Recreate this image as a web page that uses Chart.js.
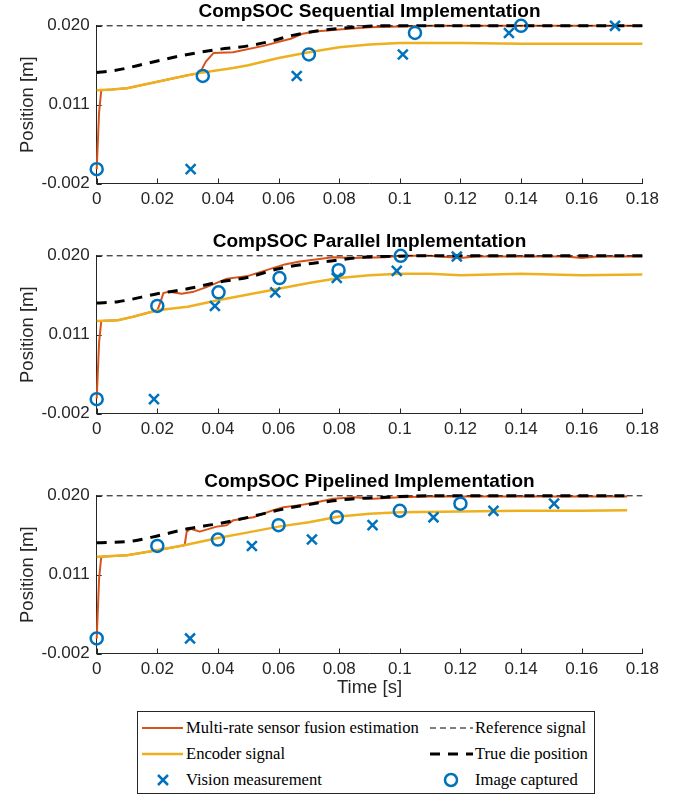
<!DOCTYPE html>
<html>
<head>
<meta charset="utf-8">
<script src="https://cdn.jsdelivr.net/npm/chart.js@4.4.0/dist/chart.umd.min.js"></script>
<style>
  body { margin: 0; background: #fff; }
  #wrap { position: relative; width: 683px; height: 795px; overflow: hidden; }
  #wrap canvas { position: absolute; left: 0; }
  #legend { position: absolute; left: 137px; top: 711px; width: 456px; height: 81px;
    border: 1px solid #262626; background: #fff;
    font-family: "Liberation Serif", "Times New Roman", serif; font-size: 16.6px; color: #000; }
  #legend svg { position: absolute; }
  #legend span { position: absolute; line-height: 20px; white-space: nowrap; }
</style>
</head>
<body>
<div id="wrap">
  <canvas id="c1" width="683" height="225" style="top:0px"></canvas>
  <canvas id="c2" width="683" height="225" style="top:229.6px"></canvas>
  <canvas id="c3" width="683" height="245" style="top:469.6px"></canvas>
  <div id="legend">
    <svg style="left:3.7px;top:7.7px" width="42" height="16"><line x1="0" y1="8" x2="41" y2="8" stroke="#D95319" stroke-width="2"/></svg>
    <span style="left:48px;top:5.7px">Multi-rate sensor fusion estimation</span>
    <svg style="left:292px;top:7.7px" width="44" height="16"><line x1="0" y1="8" x2="43" y2="8" stroke="#000" stroke-width="1" stroke-dasharray="6 4"/></svg>
    <span style="left:337px;top:5.7px">Reference signal</span>

    <svg style="left:3.7px;top:34.3px" width="42" height="16"><line x1="0" y1="8" x2="41" y2="8" stroke="#EDB120" stroke-width="2.5"/></svg>
    <span style="left:48px;top:32.3px">Encoder signal</span>
    <svg style="left:292px;top:34.3px" width="44" height="16"><line x1="0" y1="8" x2="43" y2="8" stroke="#000" stroke-width="3" stroke-dasharray="10 8"/></svg>
    <span style="left:337px;top:32.3px">True die position</span>

    <svg style="left:3.7px;top:60px" width="42" height="16"><path d="M16 3 L26 13 M26 3 L16 13" stroke="#0072BD" stroke-width="2.5"/></svg>
    <span style="left:48px;top:58px">Vision measurement</span>
    <svg style="left:292px;top:60px" width="44" height="16"><circle cx="21" cy="8" r="6" fill="none" stroke="#0072BD" stroke-width="2.5"/></svg>
    <span style="left:337px;top:58px">Image captured</span>
  </div>
</div>
<script>
const xTicks = [0, 0.02, 0.04, 0.06, 0.08, 0.1, 0.12, 0.14, 0.16, 0.18];
const yTicks = [-0.002, 0.009, 0.020];
const yTickLabels = ['-0.002', '0.011', '0.020'];
const titles = ['CompSOC Sequential Implementation', 'CompSOC Parallel Implementation', 'CompSOC Pipelined Implementation'];

// [time, position] pairs
const seqReference = [[0, 0.020], [0.18, 0.020]];
const seqTrue = [[0, 0.0135], [0.005, 0.0137], [0.01, 0.0141], [0.015, 0.0146], [0.02, 0.0151], [0.03, 0.0160], [0.04, 0.0167], [0.05, 0.0172], [0.057, 0.0178], [0.065, 0.0187], [0.075, 0.0194], [0.085, 0.0198], [0.095, 0.0200], [0.18, 0.0200]];
const seqEncoder = [[0, 0.0110], [0.005, 0.0111], [0.01, 0.0113], [0.02, 0.0122], [0.03, 0.0131], [0.035, 0.0135], [0.04, 0.0138], [0.045, 0.0141], [0.05, 0.0145], [0.06, 0.0155], [0.07, 0.0163], [0.08, 0.0170], [0.09, 0.0174], [0.10, 0.0176], [0.12, 0.0176], [0.14, 0.0175], [0.16, 0.0175], [0.18, 0.0175]];
const seqFusion = [[0, 0.0000], [0.0008, 0.0080], [0.0015, 0.0110], [0.005, 0.0111], [0.01, 0.0113], [0.02, 0.0122], [0.03, 0.0131], [0.034, 0.0134], [0.036, 0.0150], [0.0385, 0.0162], [0.045, 0.0163], [0.055, 0.0172], [0.064, 0.0182], [0.068, 0.0189], [0.072, 0.0192], [0.08, 0.0195], [0.09, 0.0198], [0.1, 0.0199], [0.11, 0.0200], [0.18, 0.0200]];
const seqVision = [[0.031, 0.0000], [0.066, 0.0130], [0.101, 0.0160], [0.136, 0.0190], [0.171, 0.0200]];
const seqCaptured = [[0, 0.0000], [0.035, 0.0130], [0.070, 0.0160], [0.105, 0.0190], [0.140, 0.0200]];

const parReference = [[0, 0.020], [0.18, 0.020]];
const parTrue = [[0, 0.0134], [0.007, 0.0136], [0.02, 0.0147], [0.03, 0.0154], [0.04, 0.0163], [0.05, 0.0170], [0.06, 0.0182], [0.07, 0.0189], [0.078, 0.0193], [0.085, 0.0197], [0.1, 0.01995], [0.11, 0.0200], [0.18, 0.0200]];
const parEncoder = [[0, 0.0109], [0.007, 0.0110], [0.012, 0.0115], [0.02, 0.0124], [0.03, 0.0129], [0.04, 0.0138], [0.05, 0.0146], [0.06, 0.0154], [0.07, 0.0162], [0.08, 0.0169], [0.09, 0.0173], [0.1, 0.0175], [0.11, 0.0175], [0.12, 0.0173], [0.14, 0.0175], [0.16, 0.0173], [0.18, 0.0174]];
const parFusion = [[0, 0.0001], [0.0008, 0.0080], [0.0015, 0.0109], [0.007, 0.0110], [0.012, 0.0115], [0.02, 0.0124], [0.021, 0.0135], [0.022, 0.0148], [0.024, 0.0150], [0.028, 0.0147], [0.032, 0.0150], [0.036, 0.0156], [0.04, 0.0163], [0.043, 0.0168], [0.05, 0.0172], [0.056, 0.0180], [0.062, 0.0188], [0.067, 0.0192], [0.078, 0.0198], [0.085, 0.0197], [0.095, 0.0198], [0.1, 0.0200], [0.11, 0.0200], [0.12, 0.0197], [0.125, 0.0199], [0.155, 0.0199], [0.16, 0.0197], [0.165, 0.0199], [0.18, 0.0199]];
const parVision = [[0.0189, 0.0000], [0.039, 0.0130], [0.0589, 0.0149], [0.0792, 0.0169], [0.099, 0.0179], [0.1188, 0.0199]];
const parCaptured = [[0, 0.0000], [0.02, 0.0130], [0.0402, 0.0149], [0.0603, 0.0169], [0.0798, 0.0180], [0.1003, 0.0200]];

const pipReference = [[0, 0.020], [0.18, 0.020]];
const pipTrue = [[0, 0.01345], [0.012, 0.0137], [0.02, 0.0144], [0.03, 0.0154], [0.04, 0.0161], [0.05, 0.0170], [0.06, 0.0180], [0.07, 0.0188], [0.078, 0.0193], [0.085, 0.0196], [0.09, 0.0197], [0.1, 0.0199], [0.11, 0.0200], [0.175, 0.0200]];
const pipEncoder = [[0, 0.0115], [0.01, 0.0117], [0.02, 0.0124], [0.03, 0.0132], [0.04, 0.0141], [0.05, 0.0149], [0.06, 0.0157], [0.07, 0.0163], [0.08, 0.0171], [0.09, 0.0175], [0.1, 0.0177], [0.12, 0.0178], [0.14, 0.0179], [0.16, 0.0179], [0.175, 0.0180]];
const pipFusion = [[0, 0.0001], [0.0008, 0.0085], [0.0015, 0.0115], [0.01, 0.0117], [0.02, 0.0124], [0.029, 0.0131], [0.0297, 0.0150], [0.031, 0.0154], [0.034, 0.0150], [0.0396, 0.0157], [0.0429, 0.0159], [0.0451, 0.0166], [0.0517, 0.0170], [0.0583, 0.0180], [0.0616, 0.0184], [0.0671, 0.0187], [0.0726, 0.0191], [0.078, 0.0196], [0.085, 0.0198], [0.0913, 0.0196], [0.1, 0.0198], [0.11, 0.0199], [0.175, 0.0199]];
const pipVision = [[0.0308, 0.0001], [0.0512, 0.0130], [0.071, 0.0139], [0.091, 0.0159], [0.1111, 0.0170], [0.1309, 0.0179], [0.1509, 0.0189]];
const pipCaptured = [[0, 0.0001], [0.02, 0.0130], [0.04, 0.0139], [0.06, 0.0159], [0.0792, 0.0170], [0.1, 0.0179], [0.12, 0.0189]];

const AX = '#262626', BLUE = '#0072BD', RED = '#D95319', YEL = '#EDB120';
const SANS = '"Liberation Sans", Arial, sans-serif';

function pts(arr) { return arr.map(p => ({x: p[0], y: p[1]})); }

function lineSet(arr, color, width, dash, order, smooth) {
  return { data: pts(arr), showLine: true, borderColor: color, borderWidth: width, borderDash: dash,
    borderCapStyle: 'butt', borderJoinStyle: 'round', pointRadius: 0, pointHoverRadius: 0, fill: false,
    tension: 0, cubicInterpolationMode: smooth ? 'monotone' : 'default', clip: false, order: order };
}

function markSet(arr, style, radius, order) {
  return { data: pts(arr), showLine: false, pointStyle: style, pointRadius: radius, pointHoverRadius: radius,
    borderColor: BLUE, borderWidth: 2.5, backgroundColor: 'rgba(0,0,0,0)', clip: false, order: order };
}

// MATLAB style ticks pointing into the plot
const innerTicks = {
  id: 'innerTicks',
  beforeDatasetsDraw(chart) {
    const {ctx, chartArea: a, scales: {x, y}} = chart;
    ctx.save();
    ctx.strokeStyle = AX;
    ctx.lineWidth = 1;
    ctx.beginPath();
    x.ticks.forEach(t => {
      const px = Math.round(x.getPixelForValue(t.value)) + 0.5;
      ctx.moveTo(px, a.bottom); ctx.lineTo(px, a.bottom - 5);
    });
    y.ticks.forEach(t => {
      const py = Math.round(y.getPixelForValue(t.value)) + 0.5;
      ctx.moveTo(a.left, py); ctx.lineTo(a.left + 5, py);
    });
    ctx.stroke();
    ctx.restore();
  }
};

function makeChart(id, title, ref, tru, enc, fus, vis, cap, xHeight, showXTitle) {
  return new Chart(document.getElementById(id), {
    type: 'scatter',
    data: {
      datasets: [
        markSet(cap, 'circle', 6, 0),
        markSet(vis, 'crossRot', 7, 1),
        lineSet(ref, '#000', 1, [6, 4], 2, false),
        lineSet(tru, '#000', 3, [10, 8], 3, true),
        lineSet(enc, YEL, 2.5, [], 4, false),
        lineSet(fus, RED, 2, [], 5, false)
      ]
    },
    options: {
      responsive: false,
      animation: false,
      devicePixelRatio: 1,
      layout: { padding: { top: 0, right: 40.7, bottom: 0, left: 0 } },
      plugins: {
        legend: { display: false },
        tooltip: { enabled: false },
        title: { display: true, text: title, fullSize: false, color: '#000',
          font: { family: SANS, size: 19, weight: 'bold' }, padding: { top: 0, bottom: 3 } }
      },
      scales: {
        x: {
          type: 'linear', min: 0, max: 0.18,
          afterBuildTicks: s => { s.ticks = xTicks.map(v => ({value: v})); },
          afterFit: s => { s.height = xHeight; },
          grid: { display: false, drawTicks: false },
          border: { display: true, color: AX, width: 1 },
          ticks: { color: AX, font: { family: SANS, size: 17 }, padding: 6, maxRotation: 0, autoSkip: false,
            callback: v => String(Number(v.toFixed(2))) },
          title: { display: showXTitle, text: 'Time [s]', color: AX, font: { family: SANS, size: 18.5 },
            padding: { top: 0, bottom: 15.5 } }
        },
        y: {
          type: 'linear', min: -0.002, max: 0.020,
          afterBuildTicks: s => { s.ticks = yTicks.map(v => ({value: v})); },
          afterFit: s => { s.width = 96.7; },
          grid: { display: false, drawTicks: false },
          border: { display: true, color: AX, width: 1 },
          ticks: { color: AX, font: { family: SANS, size: 17 }, padding: 7,
            callback: (v, i) => yTickLabels[i] },
          title: { display: true, text: 'Position [m]', color: AX, font: { family: SANS, size: 18.5 },
            padding: { top: 17, bottom: 0 } }
        }
      }
    },
    plugins: [innerTicks]
  });
}

makeChart('c1', titles[0], seqReference, seqTrue, seqEncoder, seqFusion, seqVision, seqCaptured, 41.5, false);
makeChart('c2', titles[1], parReference, parTrue, parEncoder, parFusion, parVision, parCaptured, 41.5, false);
makeChart('c3', titles[2], pipReference, pipTrue, pipEncoder, pipFusion, pipVision, pipCaptured, 61.5, true);
</script>
</body>
</html>
